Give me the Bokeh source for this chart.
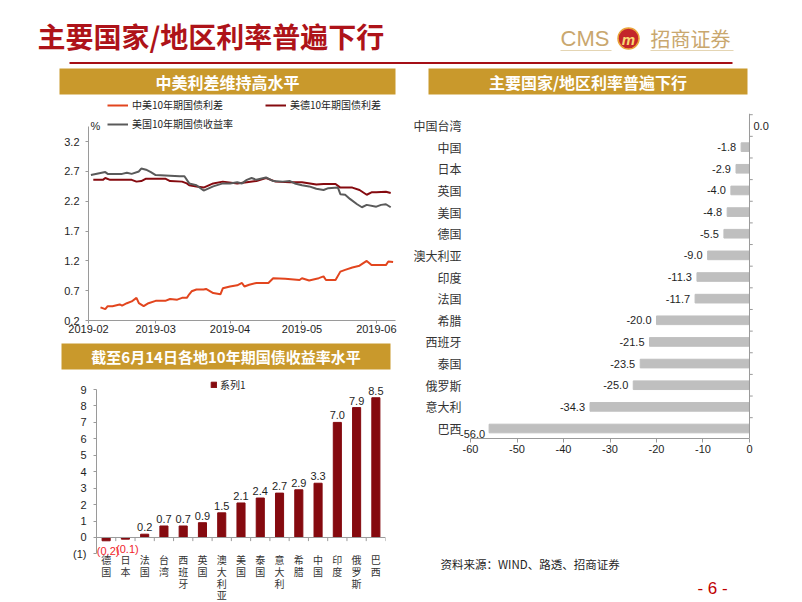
import pandas as pd
from bokeh.plotting import figure
from bokeh.models import (Range1d, FixedTicker, Legend, LegendItem, LabelSet, Label,
                          ColumnDataSource, Span)
from bokeh.layouts import column, row
from bokeh.embed import file_html
from bokeh.resources import INLINE
from bokeh.core.properties import value

# ---------------- data ----------------
cnus_dates = ["2019-02-06", "2019-02-08", "2019-02-09", "2019-02-11", "2019-02-14", "2019-02-15",
              "2019-02-17", "2019-02-19", "2019-02-21", "2019-02-22", "2019-02-24", "2019-02-26",
              "2019-03-01", "2019-03-05", "2019-03-07", "2019-03-10", "2019-03-12", "2019-03-14",
              "2019-03-15", "2019-03-16", "2019-03-18", "2019-03-21", "2019-03-22", "2019-03-25",
              "2019-03-28", "2019-03-29", "2019-04-01", "2019-04-04", "2019-04-06", "2019-04-07",
              "2019-04-09", "2019-04-12", "2019-04-17", "2019-04-19", "2019-04-24", "2019-04-30",
              "2019-05-01", "2019-05-04", "2019-05-08", "2019-05-10", "2019-05-11", "2019-05-15",
              "2019-05-17", "2019-05-19", "2019-05-22", "2019-05-25", "2019-05-28", "2019-05-30",
              "2019-06-05", "2019-06-06", "2019-06-08"]
cnus = [0.42, 0.39, 0.44, 0.44, 0.47, 0.45, 0.49, 0.52, 0.58, 0.49, 0.44, 0.49,
        0.53, 0.53, 0.56, 0.55, 0.58, 0.58, 0.64, 0.69, 0.72, 0.72, 0.73, 0.66,
        0.64, 0.74, 0.77, 0.79, 0.83, 0.77, 0.80, 0.83, 0.83, 0.91, 0.90, 0.88,
        0.91, 0.87, 0.91, 0.94, 0.88, 0.88, 1.02, 1.05, 1.09, 1.12, 1.20, 1.13,
        1.13, 1.19, 1.18]

usde_dates = ["2019-02-03", "2019-02-07", "2019-02-08", "2019-02-10", "2019-02-19", "2019-02-21",
              "2019-02-23", "2019-02-25", "2019-03-05", "2019-03-07", "2019-03-12", "2019-03-14",
              "2019-03-15", "2019-03-18", "2019-03-21", "2019-03-25", "2019-03-29", "2019-04-04",
              "2019-04-08", "2019-04-12", "2019-04-16", "2019-04-20", "2019-04-26", "2019-05-01",
              "2019-05-07", "2019-05-10", "2019-05-15", "2019-05-17", "2019-05-22", "2019-05-25",
              "2019-05-28", "2019-05-30", "2019-06-01", "2019-06-05", "2019-06-07"]
usde = [2.56, 2.56, 2.59, 2.56, 2.56, 2.53, 2.54, 2.58, 2.58, 2.54, 2.53, 2.50,
        2.47, 2.45, 2.43, 2.50, 2.53, 2.50, 2.52, 2.54, 2.59, 2.53, 2.52, 2.52,
        2.48, 2.49, 2.49, 2.43, 2.43, 2.39, 2.31, 2.35, 2.35, 2.36, 2.34]

us10y_dates = ["2019-02-02", "2019-02-08", "2019-02-09", "2019-02-15", "2019-02-17", "2019-02-19",
               "2019-02-22", "2019-02-23", "2019-02-25", "2019-02-27", "2019-03-01", "2019-03-07",
               "2019-03-11", "2019-03-13", "2019-03-15", "2019-03-18", "2019-03-21", "2019-03-25",
               "2019-03-29", "2019-04-01", "2019-04-04", "2019-04-06", "2019-04-08", "2019-04-10",
               "2019-04-12", "2019-04-16", "2019-04-19", "2019-04-23", "2019-04-26", "2019-04-28",
               "2019-05-01", "2019-05-04", "2019-05-07", "2019-05-10", "2019-05-12", "2019-05-16",
               "2019-05-17", "2019-05-19", "2019-05-21", "2019-05-24", "2019-05-26", "2019-05-28",
               "2019-06-01", "2019-06-03", "2019-06-05", "2019-06-07"]
us10y = [2.64, 2.69, 2.66, 2.66, 2.68, 2.66, 2.70, 2.75, 2.73, 2.69, 2.64, 2.63,
         2.62, 2.62, 2.50, 2.47, 2.38, 2.45, 2.50, 2.50, 2.52, 2.50, 2.56, 2.59,
         2.56, 2.60, 2.54, 2.53, 2.54, 2.50, 2.47, 2.45, 2.41, 2.39, 2.42, 2.43,
         2.32, 2.31, 2.24, 2.15, 2.10, 2.14, 2.11, 2.14, 2.15, 2.10]

series_names = ["中美10年期国债利差", "美德10年期国债利差", "美国10年期国债收益率"]
month_ticks = ["2019-02", "2019-03", "2019-04", "2019-05", "2019-06"]
line_yticks = [0.2, 0.7, 1.2, 1.7, 2.2, 2.7, 3.2]

bar_cats = ["德国", "日本", "法国", "台湾", "西班牙", "英国", "澳大利亚", "美国", "泰国",
            "意大利", "希腊", "中国", "印度", "俄罗斯", "巴西"]
bar_vals = [-0.2, -0.1, 0.2, 0.7, 0.7, 0.9, 1.5, 2.1, 2.4, 2.7, 2.9, 3.3, 7.0, 7.9, 8.5]
bar_series = "系列1"
bar_yticks = [-1, 0, 1, 2, 3, 4, 5, 6, 7, 8, 9]

hb_cats = ["中国台湾", "中国", "日本", "英国", "美国", "德国", "澳大利亚", "印度", "法国",
           "希腊", "西班牙", "泰国", "俄罗斯", "意大利", "巴西"]
hb_vals = [0.0, -1.8, -2.9, -4.0, -4.8, -5.5, -9.0, -11.3, -11.7, -20.0, -21.5, -23.5,
           -25.0, -34.3, -56.0]
hb_xticks = [-60, -50, -40, -30, -20, -10, 0]

main_title = "主要国家/地区利率普遍下行"
banner1_text = "中美利差维持高水平"
banner2_text = "截至6月14日各地10年期国债收益率水平"
banner3_text = "主要国家/地区利率普遍下行"
source_text = "资料来源：WIND、路透、招商证券"
page_text = "- 6 -"

# ---------------- styles ----------------
CJK = "Noto Sans CJK SC"
LAT = "Liberation Sans"
GOLD = "#C9992C"
TITLE_RED = "#AE1319"
TAN = "#C9A76E"
DARKRED = "#850A0F"
ORANGE = "#E2451E"
GRAYLINE = "#5A5A5A"
AXIS = "#9A9A9A"
TXT = "#1E1E1E"
NEG = "#F0242B"


def base_fig(width, height, left=0, right=0, top=0, bottom=0, **kw):
    p = figure(width=width, height=height, toolbar_location=None, output_backend="svg",
               min_border_left=left, min_border_right=right, min_border_top=top,
               min_border_bottom=bottom, frame_align=False, **kw)
    p.grid.visible = False
    p.outline_line_color = None
    p.background_fill_color = "white"
    p.border_fill_color = "white"
    return p


def banner(text, width, height, left, right, top, bottom, size):
    p = base_fig(width, height, left, right, top, bottom,
                 x_range=Range1d(0, 1), y_range=Range1d(0, 1),
                 x_axis_location=None, y_axis_location=None)
    p.background_fill_color = GOLD
    p.text(x=[0.5], y=[0.5], text=[text], text_align="center", text_baseline="middle",
           text_color="white", text_font=value(CJK), text_font_size=f"{size}px",
           text_font_style="bold")
    return p


# ---------------- header (0..65 px) ----------------
hdr = base_fig(802, 65, x_range=Range1d(0, 802), y_range=Range1d(0, 65),
               x_axis_location=None, y_axis_location=None)
hdr.text(x=[37], y=[30], text=[main_title], text_align="left", text_baseline="middle",
         text_color=TITLE_RED, text_font=value(CJK), text_font_size="28px",
         text_font_style="bold")
hdr.text(x=[560], y=[27], text=["CMS"], text_align="left", text_baseline="middle",
         text_color=TAN, text_font=value(LAT), text_font_size="22px")
hdr.scatter(x=[628], y=[27], size=21, marker="circle", fill_color="#C3262A",
            line_color="#EAA43A", line_width=1.5)
hdr.text(x=[628], y=[26.5], text=["m"], text_align="center", text_baseline="middle",
         text_color="#F8D873", text_font=value(LAT), text_font_size="15px",
         text_font_style="bold italic")
hdr.text(x=[650], y=[27], text=["招商证券"], text_align="left", text_baseline="middle",
         text_color=TAN, text_font=value(CJK), text_font_size="20px")
hdr.segment(x0=[560, 650], y0=[15, 15], x1=[611, 733], y1=[15, 15],
            line_color="#E4D5B3", line_width=1)
hdr.segment(x0=[69], y0=[2.5], x1=[732], y1=[2.5], line_color="#A50F16", line_width=2)

# ---------------- line chart ----------------
b1 = banner(banner1_text, 400, 30, 59, 5, 3, 1, 16)

lc = base_fig(400, 245, 88, 5, 0, 20, x_axis_type="datetime",
              x_range=Range1d(pd.Timestamp("2019-02-01"), pd.Timestamp("2019-06-09")),
              y_range=Range1d(0.2, 3.975))
r_cnus = lc.line(pd.to_datetime(cnus_dates), cnus, line_color=ORANGE, line_width=2)
r_usde = lc.line(pd.to_datetime(usde_dates), usde, line_color=DARKRED, line_width=2)
r_us = lc.line(pd.to_datetime(us10y_dates), us10y, line_color=GRAYLINE, line_width=2)

tick_ms = [int(pd.Timestamp(m + "-01").value // 10**6) for m in month_ticks]
lc.xaxis.ticker = FixedTicker(ticks=tick_ms)
lc.xaxis.major_label_overrides = {t: m for t, m in zip(tick_ms, month_ticks)}
lc.yaxis.ticker = FixedTicker(ticks=line_yticks)
lc.yaxis.bounds = (0.2, 3.45)
for ax in (lc.xaxis[0], lc.yaxis[0]):
    ax.axis_line_color = AXIS
    ax.major_tick_line_color = AXIS
    ax.major_tick_out = 3
    ax.major_tick_in = 0
    ax.minor_tick_line_color = None
    ax.major_label_text_font = LAT
    ax.major_label_text_font_size = "11px"
    ax.major_label_text_color = TXT
lc.xaxis.major_label_standoff = 1
lc.yaxis.major_label_standoff = 6

leg_style = dict(border_line_color=None, background_fill_alpha=0, padding=0, margin=0,
                 spacing=0, label_text_font=CJK, label_text_font_size="10px",
                 label_text_color=TXT, glyph_width=21, glyph_height=14, label_height=14,
                 label_standoff=4)
for rend, name, loc in ((r_cnus, series_names[0], (19, 208)),
                        (r_usde, series_names[1], (177, 208)),
                        (r_us, series_names[2], (19, 189))):
    lc.add_layout(Legend(items=[LegendItem(label=name, renderers=[rend])], location=loc,
                         **leg_style))
lc.add_layout(Label(x=2, y=195, x_units="screen", y_units="screen", text="%",
                    text_baseline="middle", text_align="left", text_font=LAT,
                    text_font_size="11px", text_color=TXT))

# ---------------- bar chart ----------------
b2 = banner(banner2_text, 400, 30, 61, 10, 3, 1, 15)

n = len(bar_cats)
bc = base_fig(400, 231, 96, 15, 0, 0, x_range=Range1d(-0.5, n - 0.5),
              y_range=Range1d(-3.893, 10.158), x_axis_location=None)
pos_idx = [i for i, v in enumerate(bar_vals) if v >= 0]
neg_idx = [i for i, v in enumerate(bar_vals) if v < 0]
bar_src = ColumnDataSource(dict(x=list(range(n)), top=bar_vals, zero=[0] * n,
                                cat=["\n".join(c) for c in bar_cats]))
rb = bc.vbar(x="x", top="top", bottom=0, width=0.42, source=bar_src,
             fill_color=DARKRED, line_color=DARKRED)
bc.add_layout(Span(location=0, dimension="width", line_color=AXIS, line_width=1))
bounds_x = [i - 0.5 for i in range(n + 1)]
bc.segment(x0=bounds_x, y0=[0] * len(bounds_x), x1=bounds_x, y1=[-0.22] * len(bounds_x),
           line_color=AXIS, line_width=1)

pos_src = ColumnDataSource(dict(x=pos_idx, y=[bar_vals[i] for i in pos_idx],
                                t=[f"{bar_vals[i]:.1f}" for i in pos_idx]))
neg_src = ColumnDataSource(dict(x=neg_idx, y=[bar_vals[i] for i in neg_idx],
                                t=[f"({abs(bar_vals[i]):.1f})" for i in neg_idx]))
bc.add_layout(LabelSet(x="x", y="y", text="t", source=pos_src, y_offset=3,
                       text_align="center", text_baseline="bottom",
                       text_font=value(LAT), text_font_size="11px", text_color=TXT))
bc.add_layout(LabelSet(x="x", y="y", text="t", source=neg_src, x_offset=2, y_offset=-4,
                       text_align="center", text_baseline="top",
                       text_font=value(LAT), text_font_size="11px", text_color=NEG))
bc.add_layout(LabelSet(x="x", y="zero", text="cat", source=bar_src, y_offset=-15,
                       text_align="center", text_baseline="top", text_line_height=0.77,
                       text_font=value(CJK), text_font_size="10px", text_color="#333333"))

bc.yaxis.ticker = FixedTicker(ticks=bar_yticks)
bc.yaxis.major_label_overrides = {t: (f"({abs(t)})" if t < 0 else str(t)) for t in bar_yticks}
bc.yaxis.bounds = (bar_yticks[0], bar_yticks[-1])
ay = bc.yaxis[0]
ay.axis_line_color = AXIS
ay.major_tick_line_color = AXIS
ay.major_tick_out = 3
ay.major_tick_in = 0
ay.minor_tick_line_color = None
ay.major_label_text_font = LAT
ay.major_label_text_font_size = "11px"
ay.major_label_text_color = TXT
ay.major_label_standoff = 7
bc.add_layout(Legend(items=[LegendItem(label=bar_series, renderers=[rb])], location=(114, 209),
                     border_line_color=None, background_fill_alpha=0, padding=0, margin=0,
                     spacing=0, label_text_font=CJK, label_text_font_size="10px",
                     label_text_color=TXT, glyph_width=7, glyph_height=7, label_height=12,
                     label_standoff=3))

# ---------------- horizontal bar chart ----------------
b3 = banner(banner3_text, 402, 30, 28, 55, 3, 1, 16)

m = len(hb_cats)
hb_y = [m - 1 - i for i in range(m)]
hb = base_fig(402, 365, 59, 32, 18, 22, x_range=Range1d(-62.37, 4.52),
              y_range=Range1d(-0.462, m - 1 + 0.555))
hb_src = ColumnDataSource(dict(y=hb_y, v=hb_vals))
hb.hbar(y="y", right="v", left=0, height=0.4, source=hb_src,
        fill_color="#BFBFBF", line_color="#BFBFBF")
hb.add_layout(Span(location=0, dimension="height", line_color=AXIS, line_width=1))
bounds_y = [i + 0.5 for i in range(m)]
hb.segment(x0=[0] * m, y0=bounds_y, x1=[0.7] * m, y1=bounds_y, line_color=AXIS, line_width=1)

hb.yaxis.ticker = FixedTicker(ticks=hb_y)
hb.yaxis.major_label_overrides = {y: c for y, c in zip(hb_y, hb_cats)}
yax = hb.yaxis[0]
yax.axis_line_color = None
yax.major_tick_line_color = None
yax.minor_tick_line_color = None
yax.major_tick_out = 0
yax.major_tick_in = 0
yax.major_label_standoff = -2
yax.major_label_text_font = CJK
yax.major_label_text_font_size = "12px"
yax.major_label_text_color = "#333333"

hb.xaxis.ticker = FixedTicker(ticks=hb_xticks)
hb.xaxis.major_label_overrides = {t: str(t) for t in hb_xticks}
hb.xaxis.bounds = (hb_xticks[0], hb_xticks[-1])
xax = hb.xaxis[0]
xax.axis_line_color = AXIS
xax.major_tick_line_color = AXIS
xax.major_tick_out = 4
xax.major_tick_in = 0
xax.minor_tick_line_color = None
xax.major_label_standoff = 2
xax.major_label_text_font = LAT
xax.major_label_text_font_size = "11px"
xax.major_label_text_color = TXT


def hb_labels(sel, x_off, y_off, align):
    idx = [i for i, v in enumerate(hb_vals) if sel(v)]
    src = ColumnDataSource(dict(x=[hb_vals[i] for i in idx], y=[hb_y[i] for i in idx],
                                t=[f"{hb_vals[i]:.1f}" for i in idx]))
    hb.add_layout(LabelSet(x="x", y="y", text="t", source=src, x_offset=x_off, y_offset=y_off,
                           text_align=align, text_baseline="middle",
                           text_font=value(LAT), text_font_size="11px", text_color=TXT))


hb_labels(lambda v: v >= 0, 4, 0, "left")
hb_labels(lambda v: -50 < v < 0, -5, 0, "right")
hb_labels(lambda v: v <= -50, -4, -5, "right")

# ---------------- footer (460..601 px) ----------------
ft = base_fig(402, 141, x_range=Range1d(0, 402), y_range=Range1d(0, 141),
              x_axis_location=None, y_axis_location=None)
ft.text(x=[40], y=[38], text=[source_text], text_align="left", text_baseline="middle",
        text_color=TXT, text_font=value(CJK), text_font_size="11.5px")
ft.text(x=[312], y=[13], text=[page_text], text_align="center", text_baseline="middle",
        text_color="#C00000", text_font=value(LAT), text_font_size="17px")

left = column(b1, lc, b2, bc)
right = column(b3, hb, ft)
root = column(hdr, row(left, right))

open("out.html", "w").write(file_html(root, INLINE))
